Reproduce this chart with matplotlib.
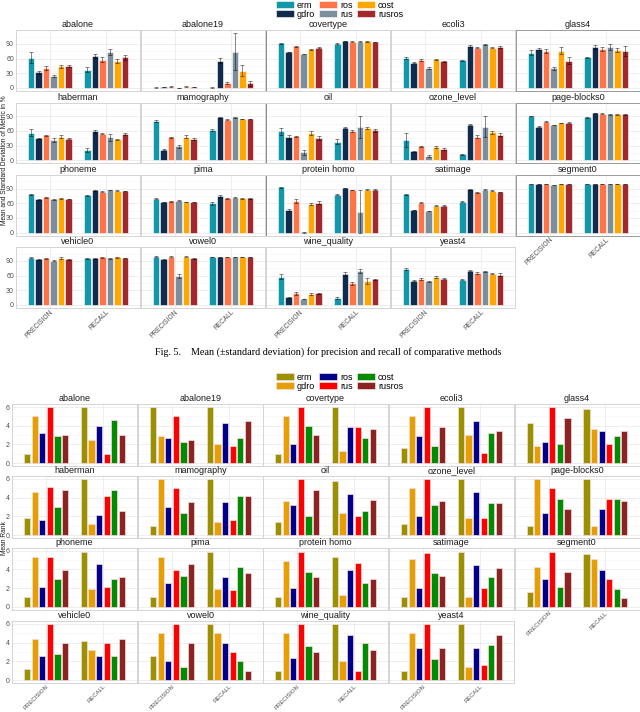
import numpy as np
import matplotlib
matplotlib.use('Agg')
import matplotlib.pyplot as plt
from matplotlib.patches import Patch

plt.rcParams['font.family'] = ['Liberation Sans', 'DejaVu Sans']

# datasets in facet order (5 columns, 4 rows, last cell empty)
datasets = ['abalone', 'abalone19', 'covertype', 'ecoli3', 'glass4',
            'haberman', 'mamography', 'oil', 'ozone_level', 'page-blocks0',
            'phoneme', 'pima', 'protein homo', 'satimage', 'segment0',
            'vehicle0', 'vowel0', 'wine_quality', 'yeast4']
methods = ['erm', 'gdro', 'ros', 'rus', 'cost', 'rusros']
metrics = ['PRECISION', 'RECALL']

# Fig. 5 values: mean and sd in %, one row per dataset, columns follow methods
mean_precision = [
    [62, 32, 40, 25, 44, 44], [0.5, 1.5, 3, 0.3, 2.5, 2], [91, 74, 85, 69, 79, 82],
    [62, 52, 57, 40, 59, 55], [72, 80, 76, 40, 76, 56], [56, 45, 51, 41, 48, 44],
    [81, 22, 47, 29, 48, 43], [59, 47, 49, 16, 56, 45], [41, 18, 29, 9, 27, 24],
    [91, 69, 79, 72, 76, 77], [78, 68, 72, 68, 70, 69], [69, 63, 64, 65, 63, 63],
    [93, 46, 65, 0.5, 59, 61], [78, 46, 61, 44, 55, 55], [99, 99, 99, 97, 99.5, 99.5],
    [96, 93, 95, 90, 96, 93], [98, 93, 98, 60, 98, 95], [58, 16, 24, 12, 23, 24],
    [74, 49, 53, 48, 57, 53]]
sd_precision = [
    [11, 3, 4, 2, 4, 2], [0.5, 0.5, 1, 0.3, 1, 1], [0.5, 0.5, 1, 0.5, 1, 1],
    [2, 1, 2, 2, 1, 1], [5, 2, 4, 3, 7, 7], [7, 1, 1, 4, 3, 1],
    [2, 1, 1, 3, 3, 2], [7, 4, 1, 6, 4, 4], [14, 1, 1, 2, 2, 2],
    [0.5, 0.5, 1, 0.5, 0.5, 0.5], [1, 1, 1, 0.5, 1, 0.5], [1, 0.5, 0.5, 1, 0.5, 0.5],
    [1, 2, 4, 0.5, 2, 3], [1, 0.5, 1, 0.5, 0.5, 1], [0.3, 0.3, 0.3, 0.3, 0.3, 0.3],
    [1, 1, 1, 1, 1.5, 1], [1, 1, 1, 4, 1, 0.5], [6, 1, 3, 1, 2, 1],
    [2, 1, 2, 1, 2, 1]]
mean_recall = [
    [37, 65, 58, 74, 56, 63], [0.5, 56, 11, 74, 35, 10], [90, 96, 95, 95, 95.5, 94],
    [57, 86, 82, 89, 82, 83], [63, 83, 80, 84, 78, 76], [21, 59, 54, 47, 43, 54],
    [62, 88, 83, 88, 84, 84], [38, 67, 60, 68, 66, 61], [12, 73, 48, 69, 57, 52],
    [88, 97, 95, 94, 94, 94], [76, 87, 84, 87, 86, 85], [60, 75, 70, 71, 70, 70],
    [77, 91, 87, 43, 88, 88], [63, 89, 82, 88, 86, 83], [99.5, 99.5, 99.5, 99.5, 99.5, 99.5],
    [95, 95, 97, 95, 97, 96], [98.5, 98.5, 98.5, 98.5, 98.5, 98.5], [14, 64, 44, 70, 49, 52],
    [51, 70, 66, 69, 64, 62]]
sd_recall = [
    [5, 4, 5, 6, 4, 5], [0.5, 5, 2, 38, 11, 5], [1, 0.5, 0.5, 0.5, 0.5, 0.5],
    [1, 2, 1, 0.5, 1, 2], [1, 4, 4, 6, 4, 10], [4, 3, 1, 7, 1, 2],
    [2, 0.5, 0.5, 1, 0.5, 0.5], [5, 1, 2, 22, 2, 3], [1, 1, 3, 22, 3, 3],
    [0.5, 0.5, 1, 0.5, 0.5, 0.5], [1, 1, 0.5, 0.5, 0.5, 0.5], [3, 2, 1, 1, 1, 0.5],
    [1, 0.5, 0.5, 44, 1, 1], [1, 1, 0.5, 1, 1, 1], [0.2, 0.2, 0.2, 0.2, 0.2, 0.2],
    [0.5, 0.5, 0.5, 0.5, 0.5, 0.5], [0.3, 0.3, 0.3, 0.3, 0.3, 0.3], [2, 4, 3, 4, 6, 1],
    [1, 1, 2, 1, 1, 3]]

# second figure: mean rank
rank_precision = [
    [1.0, 5.0, 3.25, 6.0, 2.86, 3.0], [6.0, 2.86, 2.64, 5.0, 2.2, 2.5], [1.0, 5.0, 2.0, 6.0, 4.0, 3.0],
    [1.64, 5.0, 2.86, 6.0, 1.86, 3.86], [4.25, 1.86, 2.25, 6.0, 2.0, 4.86], [1.79, 4.57, 1.6, 5.18, 2.96, 4.8],
    [1.0, 6.0, 3.0, 5.0, 2.4, 3.57], [1.43, 3.6, 3.18, 6.0, 2.0, 4.8], [1.2, 5.0, 2.0, 6.0, 3.18, 3.6],
    [1.0, 6.0, 2.4, 5.0, 3.82, 2.82], [1.0, 5.3, 2.15, 5.3, 2.93, 3.92], [1.0, 5.3, 2.54, 3.92, 3.3, 4.55],
    [1.0, 4.9, 1.95, 5.9, 3.75, 3.18], [1.0, 5.12, 1.95, 5.7, 3.57, 3.32], [1.6, 4.27, 2.93, 5.86, 2.15, 3.74],
    [1.2, 4.4, 2.6, 6.0, 2.8, 4.0], [2.6, 5.0, 2.0, 6.0, 1.4, 4.0], [1.0, 5.0, 2.4, 6.0, 3.6, 3.0],
    [1.0, 5.0, 3.4, 6.0, 2.2, 3.4]]
rank_recall = [
    [6.0, 2.5, 4.0, 1.0, 4.6, 3.0], [6.0, 2.0, 4.25, 1.8, 2.64, 4.46], [6.0, 1.25, 3.85, 3.85, 2.64, 3.6],
    [6.0, 3.0, 4.46, 1.07, 3.25, 3.46], [5.8, 3.6, 3.46, 2.0, 2.86, 3.46], [6.0, 1.18, 2.18, 4.2, 4.8, 2.57],
    [6.0, 1.4, 3.57, 1.6, 4.2, 4.2], [5.8, 2.4, 4.4, 2.0, 2.57, 3.8], [6.0, 1.8, 4.6, 1.8, 3.4, 3.4],
    [6.0, 1.0, 2.82, 3.82, 3.82, 3.6], [5.86, 1.94, 4.55, 2.15, 2.93, 3.14], [5.86, 1.94, 3.14, 1.77, 4.3, 3.57],
    [5.3, 1.2, 3.92, 4.7, 2.54, 2.93], [5.9, 1.0, 4.52, 1.95, 3.18, 4.17], [5.68, 5.12, 3.92, 2.93, 1.94, 0.95],
    [4.2, 3.2, 2.6, 4.0, 2.6, 4.4], [6.0, 5.0, 4.0, 3.0, 2.0, 1.0], [6.0, 2.0, 4.8, 1.0, 4.0, 3.2],
    [6.0, 1.4, 3.4, 1.58, 3.8, 4.8]]

colors_top = ['#1297a8', '#112b4d', '#ff7446', '#7a8e9b', '#ffa600', '#a3282b']
colors_bot = ['#9a9000', '#e69f00', '#00008b', '#ff0000', '#008b00', '#8b2323']

W, H = 640, 712
fig = plt.figure(figsize=(W / 100, H / 100), dpi=100)


def px_axes(left, top, width, height):
    return fig.add_axes([left / W, 1 - (top + height) / H, width / W, height / H])


def style_panel(ax, name, yticks, yminor, ylim, show_y, show_x, spine_col, xsize):
    ax.set_xlim(-0.6, 1.6)
    ax.set_ylim(*ylim)
    ax.set_yticks(yticks)
    ax.set_yticks(yminor, minor=True)
    ax.set_xticks([0, 1])
    ax.grid(True, which='major', color='#ebebeb', linewidth=0.6)
    ax.grid(True, which='minor', axis='y', color='#f3f3f3', linewidth=0.4)
    ax.set_axisbelow(True)
    ax.tick_params(length=0, labelsize=5, labelcolor='#4d4d4d', pad=1.5)
    ax.tick_params(axis='x', labelsize=xsize, pad=0.5)
    ax.tick_params(which='minor', length=0)
    if not show_y:
        ax.set_yticklabels([])
    if show_x:
        ax.set_xticklabels(metrics, rotation=45, ha='right', rotation_mode='anchor')
    else:
        ax.set_xticklabels([])
    for s in ax.spines.values():
        s.set_color(spine_col)
        s.set_linewidth(0.7)
    ax.text(0.5, 1.0 + 5.5 / 61, name, transform=ax.transAxes, ha='center',
            va='center', fontsize=6.5, color='#1a1a1a')


offsets = (np.arange(len(methods)) - 2.5) * 0.133
bar_w = 0.11

# ---- Fig. 5: mean and standard deviation ----
lefts_top = [16, 141, 266, 391, 516]
tops_top = [30.3, 102.6, 174.9, 247.2]
for k, name in enumerate(datasets):
    r, c = divmod(k, 5)
    ax = px_axes(lefts_top[c], tops_top[r], 124, 60.6)
    for g, (means, sds) in enumerate([(mean_precision, sd_precision), (mean_recall, sd_recall)]):
        xs = g + offsets
        ax.bar(xs, means[k], width=bar_w, color=colors_top, edgecolor='white', linewidth=0.4)
        ax.errorbar(xs, means[k], yerr=sds[k], fmt='none', ecolor=(0, 0, 0, 0.55),
                    elinewidth=0.6, capsize=1.5, capthick=0.6)
    last_row = (r == 3) or (c == 4 and r == 2)
    spine = '#9a9a9a' if c == 4 else '#d4d4d4'
    style_panel(ax, name, [0, 30, 60, 90], [15, 45, 75, 105], (-6, 118), c == 0, last_row,
                spine, 4.8)
    if c == 2 and r < 3:
        ax.spines['left'].set_color('#8a8a8a')

fig.text(0.5 / W, 1 - 160 / H, 'Mean and Standard Deviation of Metric in %', rotation=90,
         ha='left', va='center', fontsize=4.8, color='#1a1a1a')

handles_top = [Patch(facecolor=col, edgecolor='white', linewidth=0.4) for col in colors_top]
fig.legend(handles_top, methods, ncol=3, loc='upper left', bbox_to_anchor=(275 / W, 1.0),
           frameon=False, fontsize=6.5, handlelength=2.0, handleheight=0.8,
           columnspacing=0.5, labelspacing=0.0, handletextpad=0.3, borderaxespad=0.0,
           borderpad=0.1)

fig.text(328 / W, 1 - 352 / H,
         'Fig. 5.    Mean (\u00b1standard deviation) for precision and recall of comparative methods',
         ha='center', va='center', fontsize=7.3, family='Liberation Serif')

# ---- mean rank ----
lefts_bot = [12, 138, 263, 389, 514.5]
tops_bot = [404.2, 476.2, 547.9, 621.2]
for k, name in enumerate(datasets):
    r, c = divmod(k, 5)
    ax = px_axes(lefts_bot[c], tops_bot[r], 125, 61.6)
    for g, ranks in enumerate([rank_precision, rank_recall]):
        ax.bar(g + offsets, ranks[k], width=bar_w, color=colors_bot,
               edgecolor='#f4dede', linewidth=0.5)
    last_row = (r == 3) or (c == 4 and r == 2)
    style_panel(ax, name, [0, 2, 4, 6], [1, 3, 5], (-0.3, 6.3), c == 0, last_row,
                '#d4d4d4', 4.3)

fig.text(0.5 / W, 1 - 538 / H, 'Mean Rank', rotation=90, ha='left', va='center',
         fontsize=4.8, color='#1a1a1a')

handles_bot = [Patch(facecolor=col, edgecolor='#f4dede', linewidth=0.5) for col in colors_bot]
fig.legend(handles_bot, methods, ncol=3, loc='upper left', bbox_to_anchor=(275 / W, 1 - 372 / H),
           frameon=False, fontsize=6.5, handlelength=2.0, handleheight=0.8,
           columnspacing=0.5, labelspacing=0.0, handletextpad=0.3, borderaxespad=0.0,
           borderpad=0.1)

fig.savefig('out.png', dpi=100)
